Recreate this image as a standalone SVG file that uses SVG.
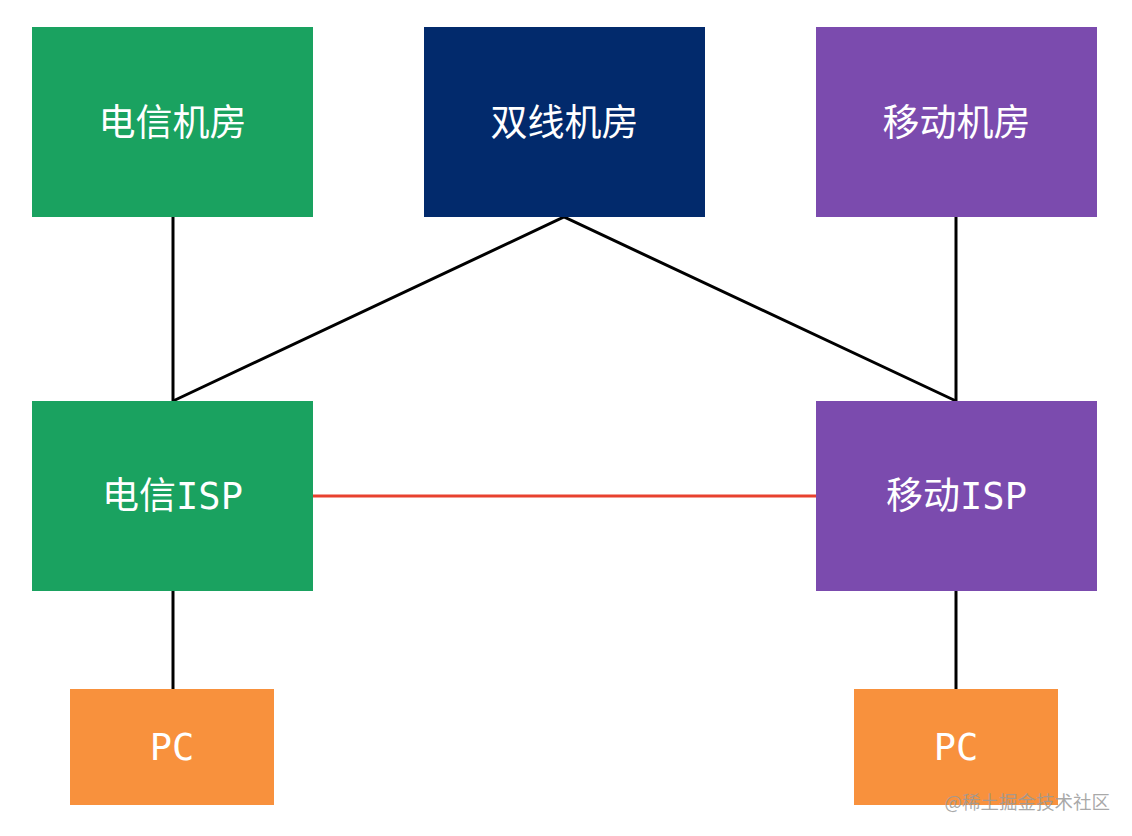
<svg xmlns="http://www.w3.org/2000/svg" width="1132" height="836" viewBox="0 0 1132 836">
<style>
.t{font-family:"DejaVu Sans Mono","Noto Sans CJK SC",monospace;font-size:37px;fill:#ffffff;text-anchor:middle;dominant-baseline:central}
.c{font-family:"Noto Sans CJK SC","Noto Sans",sans-serif;font-size:37px;fill:#ffffff;text-anchor:middle;dominant-baseline:central}
.g{fill:#1aa260}.b{fill:#022a6c}.p{fill:#7b4bae}.o{fill:#f8913d}
.ln{stroke:#000;stroke-width:3;fill:none}
</style>
<rect width="1132" height="836" fill="#ffffff"/>
<g id="connectors">
<line class="ln" x1="173" y1="217" x2="173" y2="401"/>
<polyline class="ln" points="173,401 564,217 956,401"/>
<line class="ln" x1="956" y1="217" x2="956" y2="401"/>
<line x1="313" y1="496" x2="816" y2="496" stroke="#e8412e" stroke-width="3"/>
<line class="ln" x1="173" y1="591" x2="173" y2="689"/>
<line class="ln" x1="956" y1="591" x2="956" y2="689"/>
</g>
<g id="dx-room"><rect class="g" x="32" y="27" width="281" height="190"/><text class="c" x="172.5" y="120">电信机房</text></g>
<g id="dual-room"><rect class="b" x="424" y="27" width="281" height="190"/><text class="c" x="564.5" y="120">双线机房</text></g>
<g id="yd-room"><rect class="p" x="816" y="27" width="281" height="190"/><text class="c" x="956.5" y="120">移动机房</text></g>
<g id="dx-isp"><rect class="g" x="32" y="401" width="281" height="190"/><text class="t" x="172.5" y="496">电信ISP</text></g>
<g id="yd-isp"><rect class="p" x="816" y="401" width="281" height="190"/><text class="t" x="956.5" y="496">移动ISP</text></g>
<g id="pc-left"><rect class="o" x="70" y="689" width="204" height="116"/><text class="t" x="172" y="747">PC</text></g>
<g id="pc-right"><rect class="o" x="854" y="689" width="204" height="116"/><text class="t" x="956" y="747">PC</text></g>
<text x="1110" y="801" font-family="Noto Sans CJK SC,sans-serif" font-size="18.5" fill="#9a9a9a" fill-opacity="0.85" text-anchor="end" dominant-baseline="central">@稀土掘金技术社区</text>
</svg>
